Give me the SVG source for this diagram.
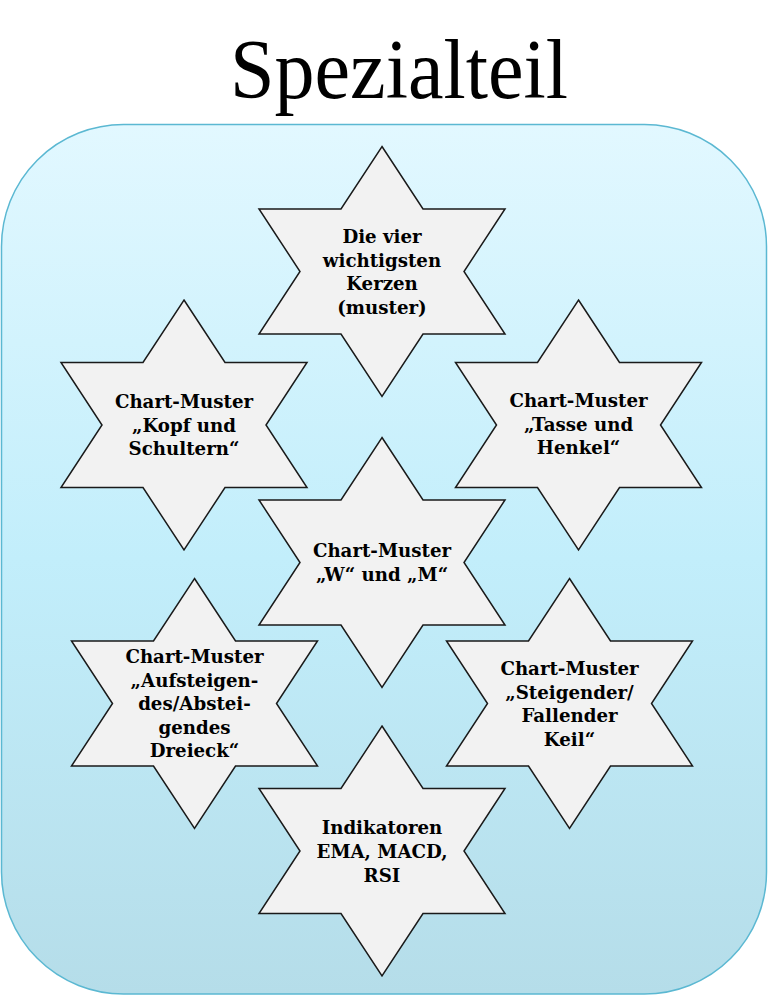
<svg xmlns="http://www.w3.org/2000/svg" width="768" height="996" viewBox="0 0 768 996">
<defs>
<linearGradient id="bg" x1="0" y1="0" x2="0" y2="1">
<stop offset="0" stop-color="#e2f8ff"/>
<stop offset="0.5" stop-color="#c2eefb"/>
<stop offset="1" stop-color="#b5dde9"/>
</linearGradient>
<polygon id="star" points="0,-125 41,-62.5 123,-62.5 82,0 123,62.5 41,62.5 0,125 -41,62.5 -123,62.5 -82,0 -123,-62.5 -41,-62.5"/>
</defs>
<style>
.title{font-family:"Liberation Serif","Times New Roman",serif;font-size:84px;fill:#000;}
.star{fill:#f2f2f2;stroke:#1a1a1a;stroke-width:1.5;stroke-linejoin:miter;}
.lbl{font-family:"DejaVu Serif","Liberation Serif",serif;font-weight:bold;font-size:18.2px;fill:#000;text-anchor:middle;}
</style>
<rect width="768" height="996" fill="#ffffff"/>
<text class="title" x="399" y="98" text-anchor="middle" textLength="338" lengthAdjust="spacingAndGlyphs">Spezialteil</text>
<rect x="1.5" y="124.5" width="765" height="869.5" rx="122" ry="122" fill="url(#bg)" stroke="#5bb8d2" stroke-width="1.5"/>
<g id="connectors"></g>
<g id="n1"><use href="#star" class="star" transform="translate(382,271.5)"/>
<text class="lbl" x="382"><tspan x="382" y="243">Die vier</tspan><tspan x="382" y="266.5">wichtigsten</tspan><tspan x="382" y="290">Kerzen</tspan><tspan x="382" y="313.5">(muster)</tspan></text></g>
<g id="n2"><use href="#star" class="star" transform="translate(184,425)"/>
<text class="lbl"><tspan x="184" y="408.3">Chart-Muster</tspan><tspan x="184" y="431.8">„Kopf und</tspan><tspan x="184" y="455.3">Schultern“</tspan></text></g>
<g id="n3"><use href="#star" class="star" transform="translate(578.5,425)"/>
<text class="lbl"><tspan x="578.5" y="407">Chart-Muster</tspan><tspan x="578.5" y="430.5">„Tasse und</tspan><tspan x="578.5" y="454">Henkel“</tspan></text></g>
<g id="n4"><use href="#star" class="star" transform="translate(382,562.5)"/>
<text class="lbl"><tspan x="382" y="557">Chart-Muster</tspan><tspan x="382" y="580.5">„W“ und „M“</tspan></text></g>
<g id="n5"><use href="#star" class="star" transform="translate(194.5,703.5)"/>
<text class="lbl"><tspan x="194.5" y="663.3">Chart-Muster</tspan><tspan x="194.5" y="686.8">„Aufsteigen-</tspan><tspan x="194.5" y="710.3">des/Abstei-</tspan><tspan x="194.5" y="733.8">gendes</tspan><tspan x="194.5" y="757.3">Dreieck“</tspan></text></g>
<g id="n6"><use href="#star" class="star" transform="translate(569.5,703.5)"/>
<text class="lbl"><tspan x="569.5" y="675">Chart-Muster</tspan><tspan x="569.5" y="698.5">„Steigender/</tspan><tspan x="569.5" y="722">Fallender</tspan><tspan x="569.5" y="745.5">Keil“</tspan></text></g>
<g id="n7"><use href="#star" class="star" transform="translate(382,851)"/>
<text class="lbl"><tspan x="382" y="834.3">Indikatoren</tspan><tspan x="382" y="858">EMA, MACD,</tspan><tspan x="382" y="881.7">RSI</tspan></text></g>
</svg>
